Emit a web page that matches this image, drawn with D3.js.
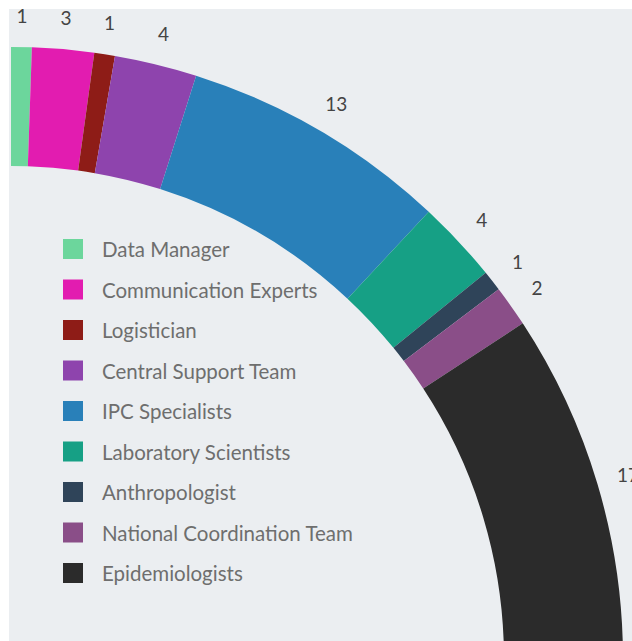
<!DOCTYPE html>
<html>
<head>
<meta charset="utf-8">
<script src="https://cdn.jsdelivr.net/npm/d3@7"></script>
<style>
  html, body { margin: 0; padding: 0; background: #ffffff; overflow: hidden; }
  svg { display: block; }
</style>
</head>
<body>
<svg id="chart" width="632" height="641"></svg>
<script>
'use strict';

// Team composition (people per role)
var categories = ['Data Manager', 'Communication Experts', 'Logistician', 'Central Support Team',
  'IPC Specialists', 'Laboratory Scientists', 'Anthropologist', 'National Coordination Team', 'Epidemiologists'];
var values = [1, 3, 1, 4, 13, 4, 1, 2, 17];
var colors = ['#6cd69c', '#e21cb0', '#8e1c17', '#8e44ad', '#2980b9', '#16a085', '#2f4459', '#8a4e88', '#2b2b2b'];

var width = 632, height = 641;
var svg = d3.select('#chart');

// panel background (white margin on the top/left, like the original screenshot)
svg.append('rect').attr('width', width).attr('height', height).attr('fill', '#ffffff');
svg.append('rect').attr('x', 9).attr('y', 9).attr('width', width - 9).attr('height', height - 9).attr('fill', '#ebeef1');

// Quarter donut, centre sits low-left so only the top-right quadrant shows
var cx = 11, cy = 659;
var outerR = 612, innerR = 493, labelR = 644;

var pie = d3.pie().sort(null).startAngle(0).endAngle(Math.PI / 2).value(function (d) { return d; });
var arc = d3.arc().innerRadius(innerR).outerRadius(outerR);
var labelArc = d3.arc().innerRadius(labelR).outerRadius(labelR);

var arcs = pie(values);
var g = svg.append('g').attr('transform', 'translate(' + cx + ',' + cy + ')');

g.selectAll('path.slice')
  .data(arcs)
  .enter().append('path')
  .attr('class', 'slice')
  .attr('d', arc)
  .attr('fill', function (d, i) { return colors[i]; });

g.selectAll('text.value')
  .data(arcs)
  .enter().append('text')
  .attr('class', 'value')
  .attr('transform', function (d) { return 'translate(' + labelArc.centroid(d) + ')'; })
  .attr('text-anchor', 'middle')
  .attr('dominant-baseline', 'central')
  .attr('font-family', 'Lato, sans-serif')
  .attr('font-size', '19px')
  .attr('fill', '#444444')
  .text(function (d) { return d.value; });

// Legend
var legend = svg.append('g').attr('transform', 'translate(63,239)');
var rowH = 40.5;
var items = legend.selectAll('g.item')
  .data(categories)
  .enter().append('g')
  .attr('class', 'item')
  .attr('transform', function (d, i) { return 'translate(0,' + (i * rowH) + ')'; });

items.append('rect')
  .attr('width', 20).attr('height', 20)
  .attr('fill', function (d, i) { return colors[i]; });

items.append('text')
  .attr('x', 39).attr('y', 10)
  .attr('dominant-baseline', 'central')
  .attr('font-family', 'Lato, sans-serif')
  .attr('font-size', '20.5px')
  .attr('fill', '#6e6e6e')
  .text(function (d) { return d; });
</script>
</body>
</html>
